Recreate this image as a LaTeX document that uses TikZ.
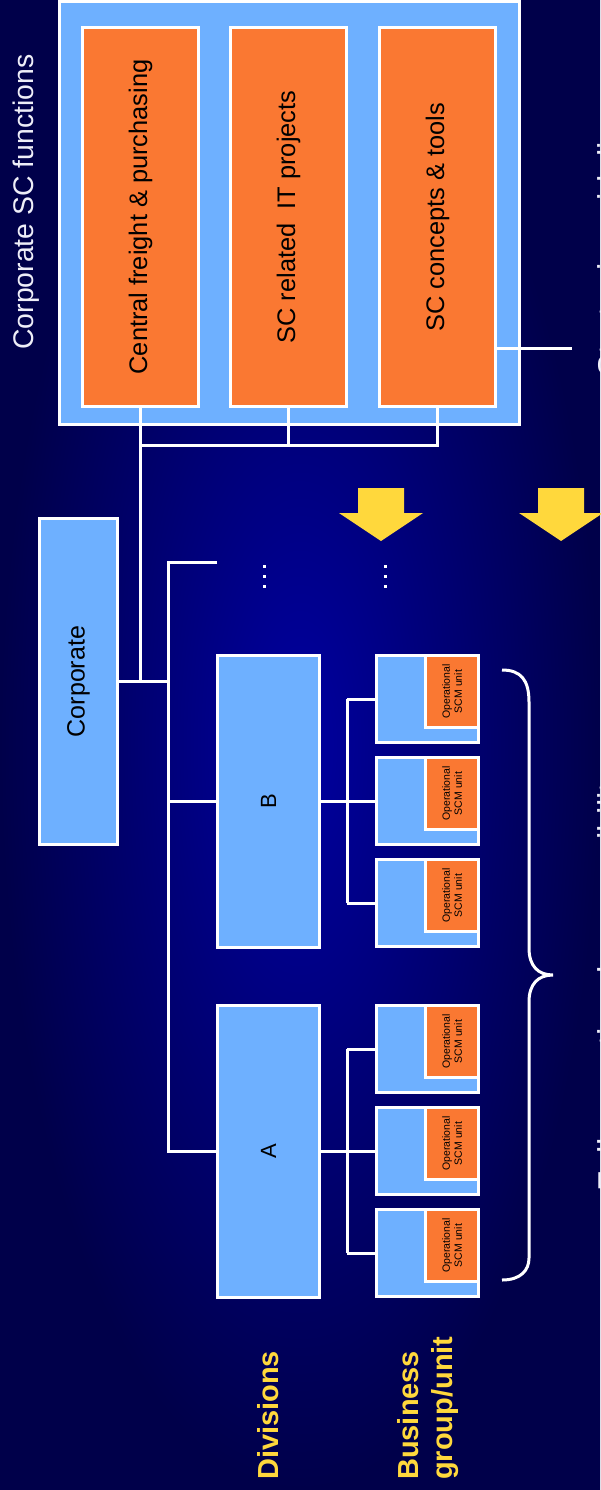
\documentclass[tikz,border=0pt]{standalone}
\usepackage{fontspec}
\setmainfont{Liberation Sans}
\usetikzlibrary{fit}
\definecolor{lblue}{HTML}{6EB0FF}
\definecolor{orng}{HTML}{FA7832}
\definecolor{ylw}{HTML}{FFD83C}
\definecolor{bgin}{HTML}{0000A0}
\definecolor{bgout}{HTML}{00004A}
\definecolor{txtw}{HTML}{EEEEF8}
\newcommand\unitbox[2]{%
  \node[ubox, fit={(376.5,#2) (478.5,{#2+87})}] (#1) {};
  \node[obox, fit={(425.5,#2) (478.5,{#2+72})}] (#1o) {};
  \node[ulbl] at (#1o.center) {Operational\\SCM unit};
}
\begin{document}
\begin{tikzpicture}[x=1pt,y=-1pt,
  ubox/.style={draw=white, line width=3pt, fill=lblue, inner sep=0pt},
  obox/.style={draw=white, line width=3pt, fill=orng, inner sep=0pt},
  conn/.style={draw=white, line width=3pt},
  boxlbl/.style={rotate=90, inner sep=0pt, text=black, font=\fontsize{25.4}{30}\selectfont},
  ulbl/.style={rotate=90, inner sep=0pt, align=center, text=black, font=\fontsize{10.5}{12}\selectfont},
  ylbl/.style={rotate=90, inner sep=0pt, anchor=north west, align=left, text=ylw, font=\bfseries\fontsize{29}{34}\selectfont},
  edgelbl/.style={rotate=90, inner sep=0pt, anchor=base west, text=txtw, font=\fontsize{33}{38}\selectfont},
  yarrow/.style={fill=ylw},
  dot/.style={fill=white}]
\useasboundingbox (0,0) rectangle (600,1490);
\shade[inner color=bgin, outer color=bgout] (0,0) rectangle (600,1490);

% Corporate SC functions
\node[rotate=90, anchor=base, inner sep=0pt, text=txtw, font=\fontsize{28.4}{34}\selectfont] (sctitle) at (33,202) {Corporate SC functions};
\node[ubox, fit={(59.5,1.5) (519.5,424.5)}] (scf) {};
\node[obox, fit={(82.5,27.5) (198.5,406.5)}] (f1) {};
\node[obox, fit={(230.5,27.5) (346.5,406.5)}] (f2) {};
\node[obox, fit={(379.5,27.5) (495.5,406.5)}] (f3) {};
\node[boxlbl] (f1t) at (f1.center) {Central freight \& purchasing};
\node[boxlbl] (f2t) at (f2.center) {SC related\ \ IT projects};
\node[boxlbl] (f3t) at (f3.center) {SC concepts \& tools};

% Corporate and divisions
\node[ubox, fit={(39.5,518.5) (117.5,844.5)}] (corp) {};
\node[boxlbl, font=\fontsize{25}{30}\selectfont] (corpt) at (corp.center) {Corporate};
\node[ubox, fit={(217.5,655.5) (319.5,947.5)}] (B) {};
\node[ubox, fit={(217.5,1005.5) (319.5,1297.5)}] (A) {};
\node[boxlbl, font=\fontsize{22}{26}\selectfont] (Bt) at (B.center) {B};
\node[boxlbl, font=\fontsize{22}{26}\selectfont] (At) at (A.center) {A};

% units
\unitbox{b1}{655.5}
\unitbox{b2}{757.5}
\unitbox{b3}{859.5}
\unitbox{a1}{1005.5}
\unitbox{a2}{1107.5}
\unitbox{a3}{1209.5}

% connectors
\coordinate (bus1) at (f1.south |- 0,445);
\coordinate (bus3) at (f3.south |- 0,445);
\draw[conn] (f1.south) -- (bus1) -- (bus3) -- (f3.south);
\draw[conn] (f2.south) -- (f2.south |- 0,445);
\draw[conn] (bus1) -- (bus1 |- corp.east);
\draw[conn] (corp.east) -- (corp.east -| 168,0);
\coordinate (more) at (217,562);
\draw[conn] (more) -| (A.west -| 168,0) -- (A.west);
\draw[conn] (B.west -| 168,0) -- (B.west);
\coordinate (strat) at (572,348);
\draw[conn] (f3.east |- strat) -- (strat);

\draw[conn] (B.east) -- (B.east -| 347,0);
\draw[conn] (b1.west -| 347,0) -- (b3.west -| 347,0);
\draw[conn] (b1.west -| 347,0) -- (b1.west);
\draw[conn] (b2.west -| 347,0) -- (b2.west);
\draw[conn] (b3.west -| 347,0) -- (b3.west);
\draw[conn] (A.east) -- (A.east -| 347,0);
\draw[conn] (a1.west -| 347,0) -- (a3.west -| 347,0);
\draw[conn] (a1.west -| 347,0) -- (a1.west);
\draw[conn] (a2.west -| 347,0) -- (a2.west);
\draw[conn] (a3.west -| 347,0) -- (a3.west);

% yellow arrows
\fill[yarrow] (358,488) -- (404,488) -- (404,513) -- (423,513) -- (381,541) -- (339,513) -- (358,513) -- cycle;
\fill[yarrow] (538,488) -- (584,488) -- (584,513) -- (603,513) -- (561,541) -- (519,513) -- (538,513) -- cycle;

% dots
\foreach \yy in {564.5,574.5,584.5} {
  \fill[dot] (262.5,\yy) rectangle +(3,3);
  \fill[dot] (383.5,\yy) rectangle +(3,3);
}

% brace
\draw[white, line width=3pt] (502,670) .. controls (521,670) and (529,680) .. (529,702)
  -- (529,948) .. controls (529,966) and (538,975) .. (553,975)
  .. controls (538,975) and (529,984) .. (529,1002)
  -- (529,1258) .. controls (529,1270) and (521,1280) .. (502,1280);

% left labels
\node[ylbl] (divl) at (257,1480) {Divisions};
\node[ylbl] (bgl) at (397,1480) {Business\\group/unit};

% clipped right edge texts
\node[edgelbl] (stratl) at (621,377) {Strategic guidelines};
\node[edgelbl] (fullop) at (621,1192) {Full operational responsibility};
\end{tikzpicture}
\end{document}
